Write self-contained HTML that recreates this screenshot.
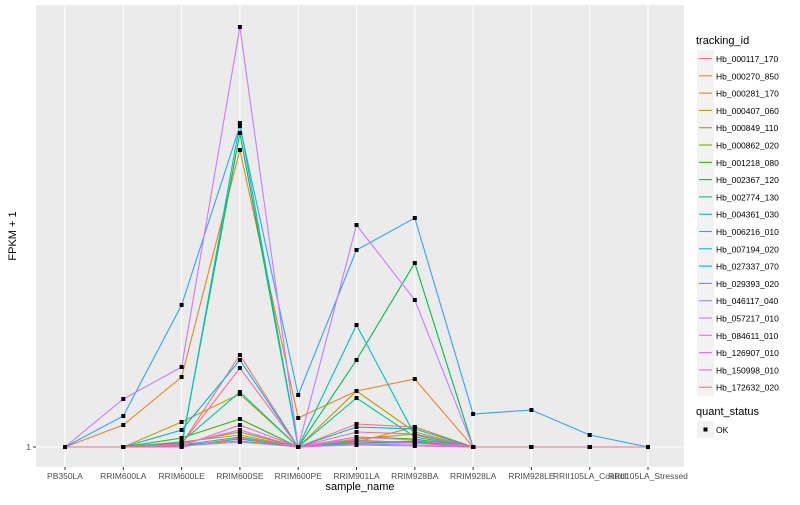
<!DOCTYPE html>
<html><head><meta charset="utf-8"><style>
body{margin:0;background:#fff;font-family:"Liberation Sans",sans-serif}
svg text{font-family:"Liberation Sans",sans-serif}
</style></head><body>
<svg id="chart" width="800" height="500">
<rect x="36" y="5" width="648" height="462" fill="#ebebeb"/>
<g id="grid"></g><g id="series"></g><g id="axes"></g><g id="legend"></g>
<text x="360" y="490" font-size="11" text-anchor="middle">sample_name</text>
<text x="16" y="236" font-size="11" text-anchor="middle" transform="rotate(-90 16 236)">FPKM + 1</text>
</svg>
<script>
const categories=["PB350LA","RRIM600LA","RRIM600LE","RRIM600SE","RRIM600PE","RRIM901LA","RRIM928BA","RRIM928LA","RRIM928LE","RRII105LA_Control","RRII105LA_Stressed"];
const seriesNames=["Hb_000117_170","Hb_000270_850","Hb_000281_170","Hb_000407_060","Hb_000849_110","Hb_000862_020","Hb_001218_080","Hb_002367_120","Hb_002774_130","Hb_004361_030","Hb_006216_010","Hb_007194_020","Hb_027337_070","Hb_029393_020","Hb_046117_040","Hb_057217_010","Hb_084611_010","Hb_126907_010","Hb_150998_010","Hb_172632_020"];
const colors=["#F8766D","#EA8331","#D89000","#C09B00","#A3A500","#7CAE00","#39B600","#00BB4E","#00BF7D","#00C1A3","#00BFC4","#00BAE0","#00B0F6","#35A2FF","#9590FF","#C77CFF","#E76BF3","#FA62DB","#FF62BC","#FF6C91"];
// values in FPKM+1 units
const s01=[1,1,1.3,10.2,1,3.3,3.0,1,1,1,1];
const s02=[1,3.2,8.0,30.7,3.9,6.6,7.8,1,1,1,1];
const s03=[1,1,1.5,2.2,1,1.5,3.0,1,1,1,1];
const s04=[1,1,3.5,6.3,1,6.6,2.5,1,1,1,1];
const s05=[1,1,1.2,1.6,1,1.8,2.3,1,1,1,1];
const s06=[1,1,1.4,2.5,1,1.4,1.6,1,1,1,1];
const s07=[1,1,1.9,3.8,1,2.0,1.8,1,1,1,1];
const s08=[1,1,1.2,32.4,1,9.7,19.4,1,1,1,1];
const s09=[1,1,1.1,1.8,1,1.6,1.5,1,1,1,1];
const s10=[1,1,1.5,6.5,1,5.9,2.0,1,1,1,1];
const s11=[1,1,1.0,33.4,1,13.2,2.2,1,1,1,1];
const s12=[1,1,1.2,2.0,1,1.4,1.4,1,1,1,1];
const s13=[1,1,2.7,9.7,1,3.0,2.8,1,1,1,1];
const s14=[1,4.1,15.2,33.1,6.2,20.7,23.9,4.3,4.7,2.2,1];
const s15=[1,1,1.1,1.5,1,1.3,1.2,1,1,1,1];
const s16=[1,5.8,9.0,43.0,1,23.2,15.7,1,1,1,1];
const s17=[1,1,1.3,2.7,1,2.0,1.7,1,1,1,1];
const s18=[1,1,1.1,3.2,1,1.7,1.4,1,1,1,1];
const s19=[1,1,1.0,1.9,1,1.2,1.1,1,1,1,1];
const s20=[1,1,1.3,8.9,1,2.5,2.3,1,1,1,1];
const seriesValues=[s01,s02,s03,s04,s05,s06,s07,s08,s09,s10,s11,s12,s13,s14,s15,s16,s17,s18,s19,s20];
const yTicks=[1];
const yTickLabels=["1"];
const NS="http://www.w3.org/2000/svg";
function xScale(i){return 65+i*58.3;}
function yScale(v){return 447-(v-1)*10;}
function mk(tag,attrs,parent){const e=document.createElementNS(NS,tag);for(const k in attrs)e.setAttribute(k,attrs[k]);parent.appendChild(e);return e;}
const grid=document.getElementById('grid'),axes=document.getElementById('axes'),ser=document.getElementById('series'),leg=document.getElementById('legend');
categories.forEach((c,i)=>{
  const x=xScale(i);
  const g=mk('line',{x1:x,x2:x,y1:5,y2:467,stroke:'#fff','stroke-width':1.1},grid);
  
  
  mk('line',{x1:x,x2:x,y1:467,y2:470,stroke:'#333'},axes);
  const t=mk('text',{x:x,y:479,'font-size':8.5,fill:'#4d4d4d','text-anchor':'middle'},axes);
  t.textContent=c;
  
  
});
yTicks.forEach((v,i)=>{
  const y=yScale(v);
  const g=mk('line',{x1:36,x2:684,y1:y,y2:y,stroke:'#fff','stroke-width':1.1},grid);
  
  
  mk('line',{x1:33,x2:36,y1:y,y2:y,stroke:'#333'},axes);
  const t=mk('text',{x:31,y:y+3,'font-size':8.5,fill:'#4d4d4d','text-anchor':'end'},axes);
  t.textContent=yTickLabels[i];
  
  
});
seriesValues.forEach((vals,si)=>{
  const pts=vals.map((v,i)=>xScale(i)+','+yScale(v)).join(' ');
  const p=mk('polyline',{points:pts,fill:'none',stroke:colors[si],'stroke-width':1.1},ser);
  
  
});
seriesValues.forEach((vals,si)=>{
  vals.forEach((v,i)=>{
    const r=mk('rect',{x:xScale(i)-2,y:yScale(v)-2,width:4,height:4,fill:'#000'},ser);
    
    
  });
});
const lt=mk('text',{x:696,y:44,'font-size':11},leg);lt.textContent='tracking_id';


seriesNames.forEach((n,i)=>{
  const y=50+i*17.3;
  const g=mk('g',{},leg);
  
  
  mk('rect',{x:697,y:y,width:17,height:17,fill:'#f2f2f2'},g);
  mk('line',{x1:699,x2:712,y1:y+8.5,y2:y+8.5,stroke:colors[i],'stroke-width':1.1},g);
  const t=mk('text',{x:716,y:y+12,'font-size':8.5},g);t.textContent=n;
});
const qt=mk('text',{x:696,y:415,'font-size':11},leg);qt.textContent='quant_status';


const qg=mk('g',{},leg);


mk('rect',{x:697,y:421,width:17,height:17,fill:'#f2f2f2'},qg);
mk('rect',{x:703.5,y:427.5,width:4,height:4,fill:'#000'},qg);
const ot=mk('text',{x:716,y:433,'font-size':8.5},qg);ot.textContent='OK';
</script>
</body></html>
